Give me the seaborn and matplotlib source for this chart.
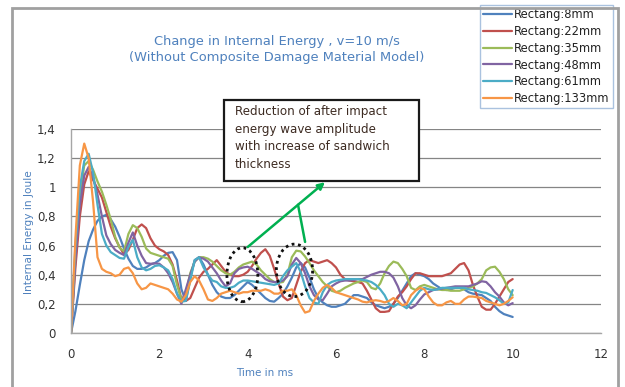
import numpy as np
import pandas as pd
import seaborn as sns
import matplotlib
matplotlib.use("Agg")
import matplotlib.pyplot as plt
from matplotlib.patches import Rectangle, Ellipse

# ---------------- data ----------------
time_ms = [round(0.1 * i, 1) for i in range(101)]

rect_8mm = [0.00, 0.15, 0.33, 0.50, 0.63, 0.71, 0.77, 0.80, 0.81, 0.78,
            0.73, 0.66, 0.58, 0.51, 0.46, 0.44, 0.44, 0.45, 0.47, 0.48,
            0.50, 0.53, 0.55, 0.555, 0.50, 0.30, 0.22, 0.38, 0.50, 0.52,
            0.47, 0.40, 0.33, 0.28, 0.25, 0.24, 0.24, 0.26, 0.29, 0.32,
            0.35, 0.33, 0.30, 0.27, 0.24, 0.22, 0.215, 0.24, 0.27, 0.32,
            0.38, 0.45, 0.48, 0.45, 0.38, 0.30, 0.24, 0.21, 0.19, 0.18,
            0.18, 0.19, 0.20, 0.23, 0.26, 0.26, 0.25, 0.24, 0.21, 0.19,
            0.18, 0.17, 0.18, 0.20, 0.24, 0.29, 0.34, 0.39, 0.41, 0.40,
            0.39, 0.37, 0.34, 0.32, 0.30, 0.295, 0.30, 0.31, 0.31, 0.30,
            0.28, 0.27, 0.265, 0.26, 0.24, 0.22, 0.18, 0.15, 0.13, 0.12,
            0.11]

rect_22mm = [0.00, 0.45, 0.80, 1.02, 1.11, 1.05, 0.99, 0.93, 0.83, 0.73,
             0.65, 0.59, 0.54, 0.57, 0.64, 0.72, 0.745, 0.72, 0.65, 0.60,
             0.575, 0.56, 0.535, 0.47, 0.36, 0.23, 0.22, 0.24, 0.31, 0.38,
             0.42, 0.44, 0.47, 0.50, 0.46, 0.42, 0.40, 0.39, 0.39, 0.40,
             0.42, 0.46, 0.51, 0.55, 0.575, 0.53, 0.44, 0.34, 0.25, 0.225,
             0.24, 0.33, 0.42, 0.48, 0.50, 0.49, 0.48, 0.49, 0.50, 0.48,
             0.45, 0.40, 0.37, 0.36, 0.355, 0.35, 0.34, 0.29, 0.23, 0.17,
             0.145, 0.145, 0.15, 0.20, 0.25, 0.28, 0.32, 0.37, 0.41, 0.41,
             0.40, 0.39, 0.39, 0.39, 0.39, 0.40, 0.41, 0.44, 0.47, 0.48,
             0.43, 0.33, 0.25, 0.18, 0.16, 0.16, 0.20, 0.25, 0.30, 0.35,
             0.37]

rect_35mm = [0.00, 0.55, 0.95, 1.15, 1.18, 1.12, 1.04, 0.97, 0.88, 0.78,
             0.66, 0.585, 0.56, 0.68, 0.74, 0.72, 0.66, 0.58, 0.55, 0.54,
             0.53, 0.52, 0.51, 0.46, 0.33, 0.23, 0.27, 0.41, 0.49, 0.52,
             0.52, 0.51, 0.49, 0.46, 0.43, 0.41, 0.40, 0.42, 0.45, 0.47,
             0.48, 0.49, 0.47, 0.43, 0.40, 0.37, 0.35, 0.345, 0.35, 0.40,
             0.52, 0.565, 0.56, 0.525, 0.48, 0.43, 0.39, 0.35, 0.32, 0.29,
             0.28, 0.29, 0.31, 0.325, 0.34, 0.35, 0.36, 0.35, 0.31, 0.30,
             0.34, 0.41, 0.46, 0.49, 0.48, 0.44, 0.39, 0.31, 0.295, 0.32,
             0.33, 0.32, 0.31, 0.30, 0.295, 0.295, 0.29, 0.29, 0.29, 0.30,
             0.31, 0.32, 0.34, 0.37, 0.43, 0.45, 0.455, 0.42, 0.37, 0.30,
             0.26]

rect_48mm = [0.00, 0.50, 0.88, 1.08, 1.14, 1.07, 0.95, 0.80, 0.67, 0.61,
             0.57, 0.55, 0.535, 0.62, 0.69, 0.60, 0.53, 0.48, 0.475, 0.478,
             0.475, 0.45, 0.41, 0.35, 0.27, 0.20, 0.30, 0.40, 0.49, 0.52,
             0.51, 0.49, 0.45, 0.41, 0.36, 0.32, 0.34, 0.41, 0.44, 0.45,
             0.455, 0.44, 0.42, 0.40, 0.37, 0.355, 0.35, 0.35, 0.36, 0.39,
             0.47, 0.515, 0.48, 0.41, 0.32, 0.26, 0.23, 0.225, 0.27, 0.32,
             0.34, 0.355, 0.36, 0.36, 0.365, 0.37, 0.37, 0.385, 0.40, 0.41,
             0.42, 0.42, 0.41, 0.38, 0.32, 0.24, 0.19, 0.17, 0.19, 0.23,
             0.265, 0.28, 0.295, 0.30, 0.305, 0.31, 0.315, 0.32, 0.32, 0.32,
             0.32, 0.33, 0.34, 0.355, 0.35, 0.32, 0.28, 0.25, 0.21, 0.19,
             0.205]

rect_61mm = [0.00, 0.60, 1.00, 1.18, 1.23, 1.10, 0.88, 0.68, 0.60, 0.555,
             0.535, 0.515, 0.51, 0.59, 0.64, 0.52, 0.45, 0.43, 0.44, 0.46,
             0.465, 0.45, 0.43, 0.37, 0.27, 0.215, 0.22, 0.36, 0.50, 0.52,
             0.45, 0.40, 0.36, 0.35, 0.32, 0.31, 0.31, 0.32, 0.345, 0.36,
             0.36, 0.355, 0.35, 0.345, 0.34, 0.335, 0.33, 0.34, 0.39, 0.43,
             0.455, 0.48, 0.42, 0.32, 0.24, 0.21, 0.20, 0.28, 0.33, 0.35,
             0.36, 0.365, 0.37, 0.37, 0.37, 0.37, 0.365, 0.36, 0.35, 0.33,
             0.30, 0.26, 0.20, 0.18, 0.20, 0.19, 0.17, 0.21, 0.25, 0.29,
             0.31, 0.30, 0.295, 0.30, 0.31, 0.31, 0.31, 0.31, 0.31, 0.31,
             0.30, 0.295, 0.29, 0.28, 0.275, 0.26, 0.245, 0.225, 0.20, 0.21,
             0.295]

rect_133mm = [0.00, 0.65, 1.15, 1.30, 1.20, 0.90, 0.52, 0.44, 0.42, 0.41,
              0.39, 0.40, 0.44, 0.45, 0.41, 0.34, 0.30, 0.31, 0.34, 0.33,
              0.32, 0.31, 0.30, 0.27, 0.23, 0.215, 0.26, 0.35, 0.39, 0.36,
              0.30, 0.23, 0.22, 0.24, 0.27, 0.28, 0.29, 0.28, 0.27, 0.28,
              0.28, 0.29, 0.29, 0.29, 0.30, 0.29, 0.27, 0.27, 0.29, 0.29,
              0.30, 0.26, 0.19, 0.14, 0.15, 0.22, 0.27, 0.31, 0.33, 0.31,
              0.28, 0.27, 0.26, 0.25, 0.24, 0.23, 0.215, 0.21, 0.22, 0.225,
              0.22, 0.21, 0.22, 0.24, 0.22, 0.19, 0.20, 0.26, 0.29, 0.31,
              0.30, 0.25, 0.21, 0.19, 0.19, 0.21, 0.22, 0.20, 0.20, 0.23,
              0.25, 0.25, 0.245, 0.24, 0.22, 0.21, 0.20, 0.19, 0.20, 0.22,
              0.245]

series_names = ["Rectang:8mm", "Rectang:22mm", "Rectang:35mm",
                "Rectang:48mm", "Rectang:61mm", "Rectang:133mm"]
series_values = [rect_8mm, rect_22mm, rect_35mm, rect_48mm, rect_61mm, rect_133mm]
series_colors = ["#4F81BD", "#C0504D", "#9BBB59", "#8064A2", "#4BACC6", "#F79646"]

x_ticks = [0, 2, 4, 6, 8, 10, 12]
y_ticks = [0, 0.2, 0.4, 0.6, 0.8, 1.0, 1.2, 1.4]
y_tick_labels = ["0", "0,2", "0,4", "0,6", "0,8", "1", "1,2", "1,4"]

frames = []
for name, vals in zip(series_names, series_values):
    frames.append(pd.DataFrame({"time": time_ms, "energy": vals, "series": name}))
df = pd.concat(frames, ignore_index=True)

# ---------------- figure ----------------
sns.set_style("white")
plt.rcParams["font.family"] = ["DejaVu Sans"]

W, H = 625, 387
fig = plt.figure(figsize=(W / 100, H / 100), dpi=100)


def fx(x):
    return x / W


def fy(y):
    return 1 - y / H


ax = fig.add_axes([fx(71), fy(333), fx(601) - fx(71), fy(129) - fy(333)])

sns.lineplot(data=df, x="time", y="energy", hue="series", hue_order=series_names,
             palette=series_colors, estimator=None, sort=False, linewidth=1.6,
             ax=ax, legend=True)

ax.set_xlim(0, 12)
ax.set_ylim(0, 1.4)
ax.set_xticks(x_ticks)
ax.set_yticks(y_ticks)
ax.set_yticklabels(y_tick_labels)
ax.grid(axis="y", color="#858585", linewidth=0.9)
ax.grid(axis="x", visible=False)
ax.set_axisbelow(True)
for s in ["top", "right"]:
    ax.spines[s].set_visible(False)
for s in ["left", "bottom"]:
    ax.spines[s].set_color("#a6a6a6")
    ax.spines[s].set_linewidth(1.0)
ax.tick_params(axis="both", direction="out", length=4, width=0.8, color="#a6a6a6",
               labelsize=8.5, labelcolor="#333333")
ax.tick_params(axis="x", pad=7)
ax.tick_params(axis="y", pad=7)
ax.set_xlabel("")
ax.set_ylabel("")

# axis labels
fig.text(fx(265), fy(373), "Time in ms", color="#4F81BD", fontsize=7.5,
         ha="center", va="center")
fig.text(fx(29), fy(232), "Internal Energy in Joule", color="#4F81BD", fontsize=7.6,
         ha="center", va="center", rotation=90)

# title
fig.text(fx(277), fy(42), "Change in Internal Energy , v=10 m/s", color="#4F81BD",
         fontsize=9.4, ha="center", va="center")
fig.text(fx(277), fy(58), "(Without Composite Damage Material Model)", color="#4F81BD",
         fontsize=9.4, ha="center", va="center")

# legend
leg = ax.legend(loc="upper right", bbox_to_anchor=(fx(613), fy(5)),
                bbox_transform=fig.transFigure, fontsize=8.3, frameon=True,
                fancybox=False, handlelength=2.5, handletextpad=0.15,
                labelspacing=0.32, borderpad=0.3, borderaxespad=0)
leg.get_frame().set_edgecolor("#95B3D7")
leg.get_frame().set_linewidth(1.0)
for t in leg.get_texts():
    t.set_color("#222222")
for l in leg.get_lines():
    l.set_linewidth(1.6)

# outer chart frame
fig.patches.append(Rectangle((fx(12), fy(395)), fx(618) - fx(12), fy(8) - fy(395),
                             transform=fig.transFigure, fill=False,
                             edgecolor="#a0a0a0", linewidth=2, zorder=0))

# annotation box
fig.patches.append(Rectangle((fx(224), fy(181)), fx(419) - fx(224), fy(100) - fy(181),
                             transform=fig.transFigure, facecolor="white",
                             edgecolor="#1a1a1a", linewidth=1.6, zorder=5))
fig.text(fx(235), fy(105),
         "Reduction of after impact\nenergy wave amplitude\nwith increase of sandwich\nthickness",
         color="#3d2b22", fontsize=8.6, ha="left", va="top", linespacing=1.45, zorder=6)

# dotted ellipses
ax.add_patch(Ellipse((3.88, 0.40), 0.70, 0.37, angle=0, fill=False,
                     edgecolor="#111111", linewidth=2.0, linestyle=(0, (1, 1.3)),
                     zorder=10))
ax.add_patch(Ellipse((5.06, 0.43), 0.82, 0.36, angle=0, fill=False,
                     edgecolor="#111111", linewidth=2.0, linestyle=(0, (1, 1.3)),
                     zorder=10))

# green arrows
ax.annotate("", xy=(5.75, 1.035), xytext=(4.0, 0.59),
            arrowprops=dict(arrowstyle="-|>", color="#00B050", lw=1.8,
                            mutation_scale=10, shrinkA=0, shrinkB=0),
            zorder=11, annotation_clip=False)
ax.plot([5.30, 5.14], [0.625, 0.88], color="#00B050", linewidth=1.8, zorder=11,
        solid_capstyle="round")

fig.savefig("out.png", dpi=100)
